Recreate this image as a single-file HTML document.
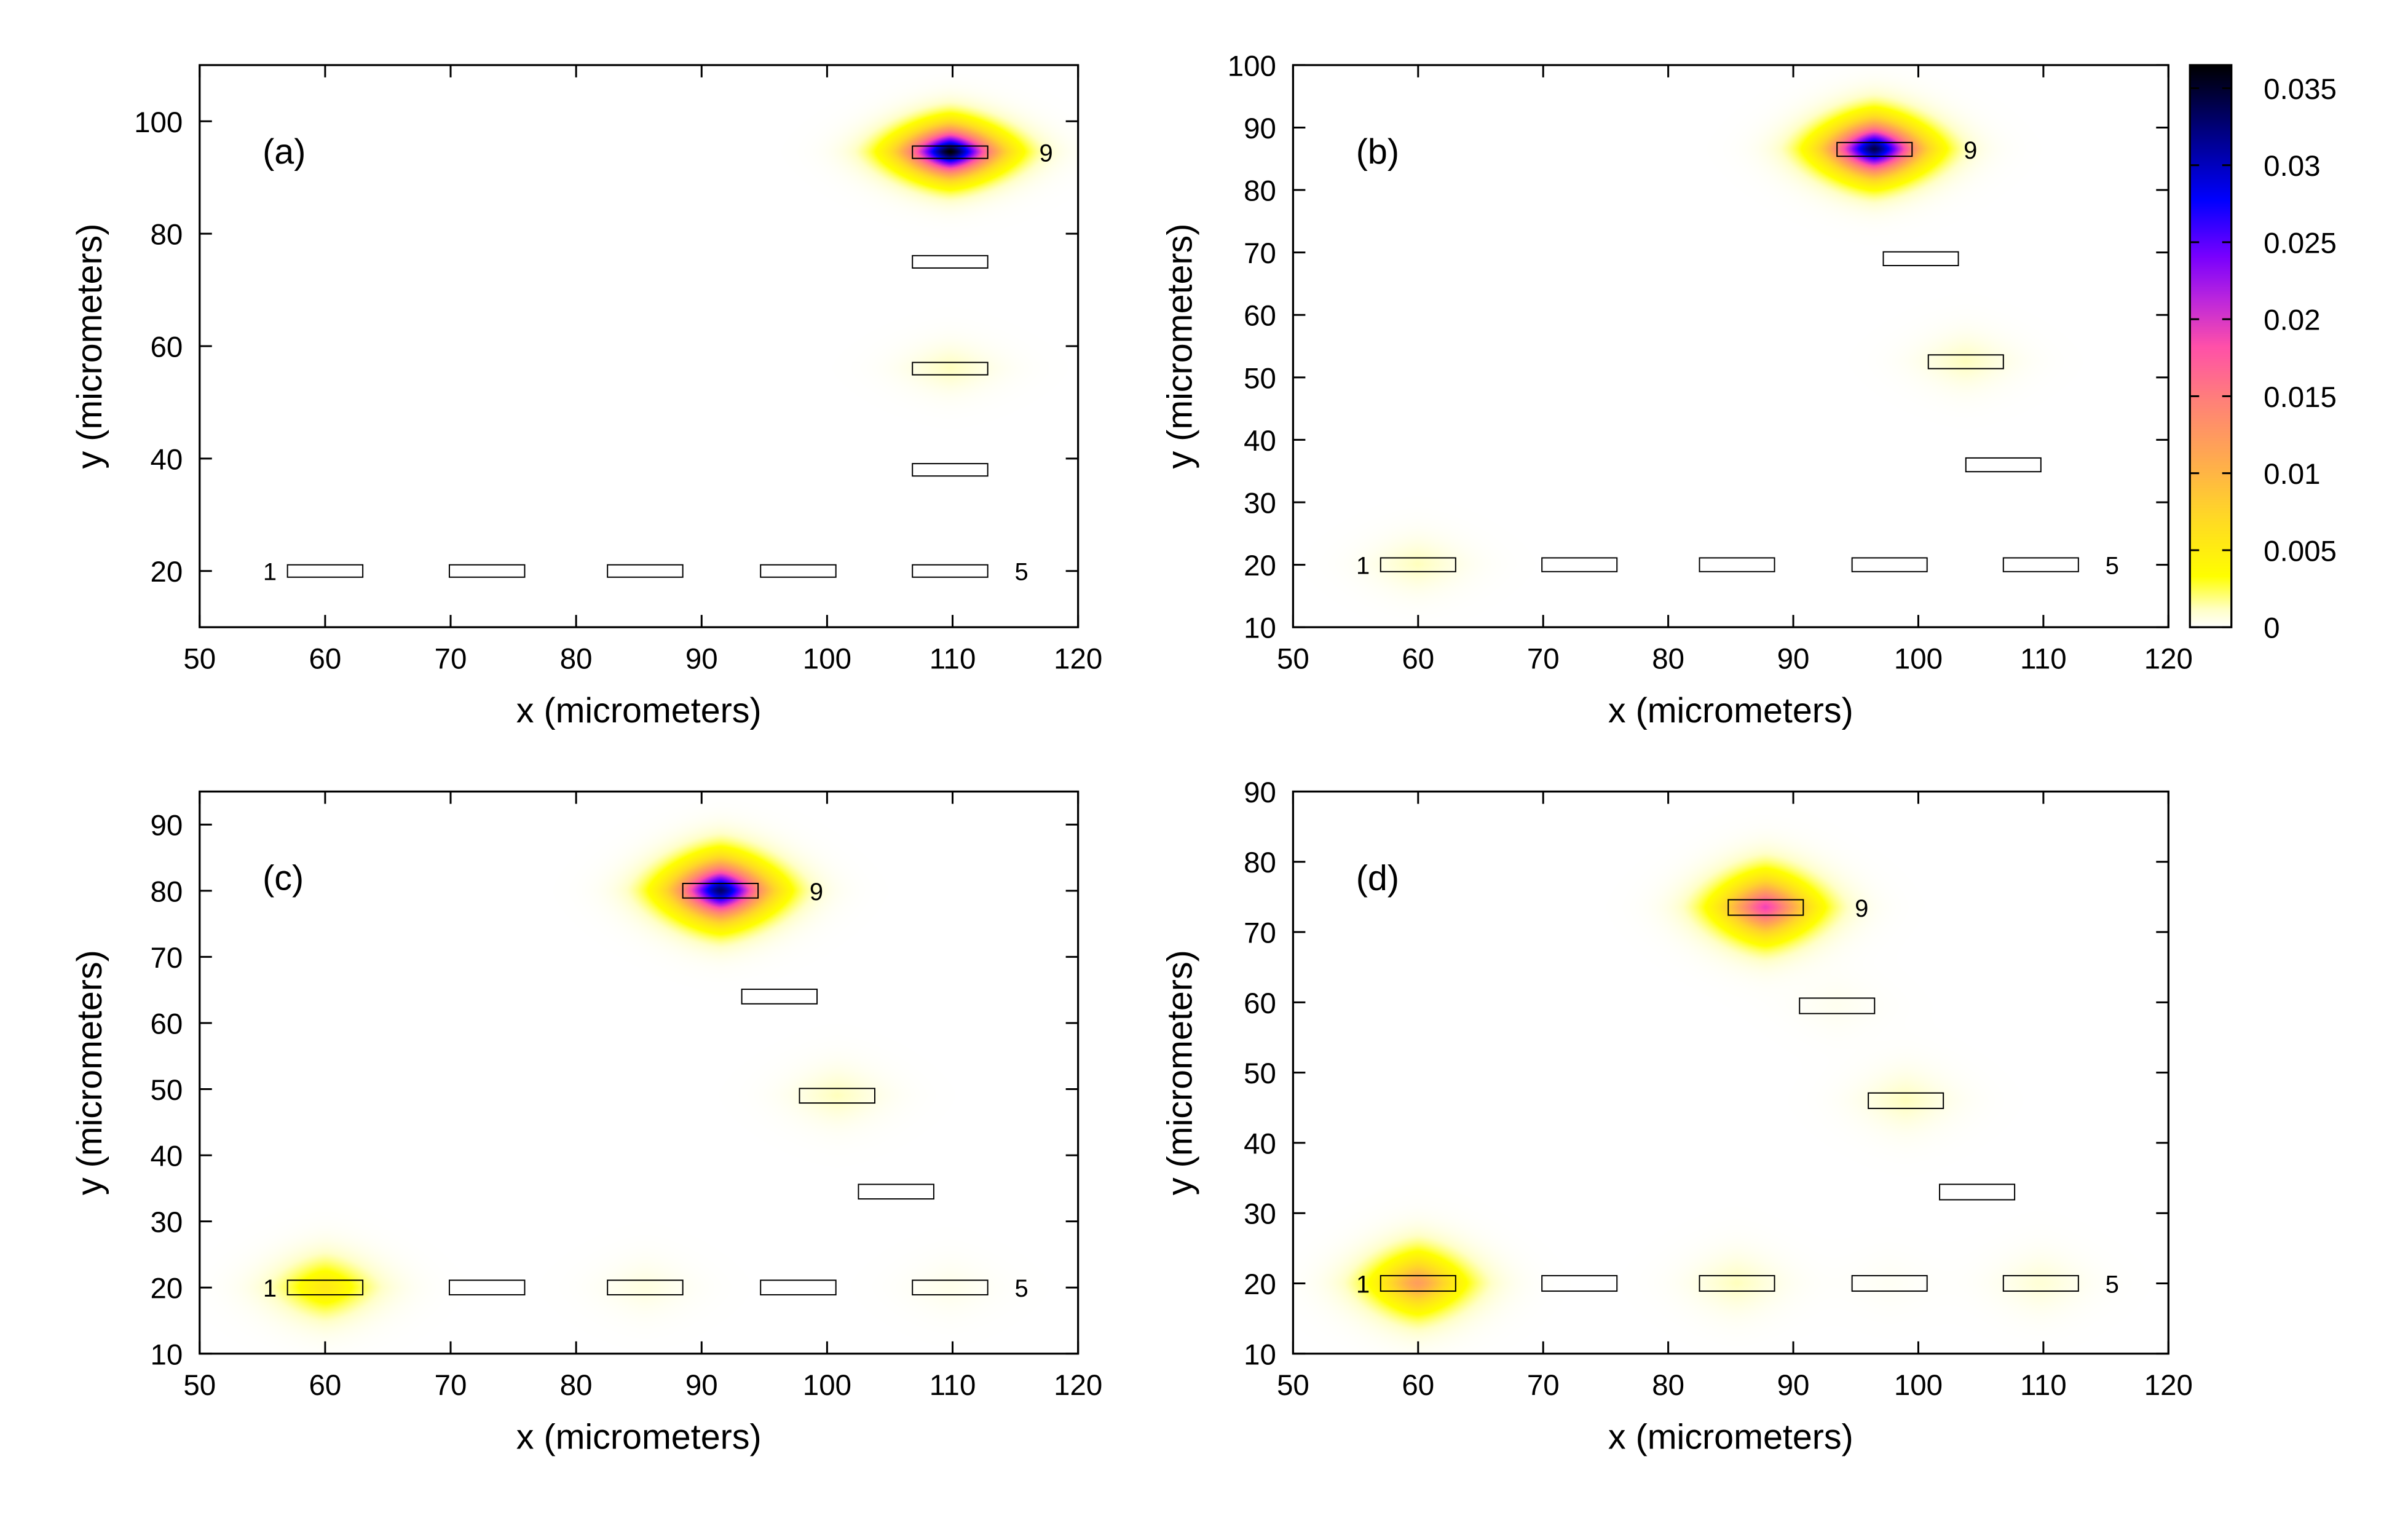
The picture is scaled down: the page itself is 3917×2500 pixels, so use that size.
<!DOCTYPE html>
<html><head><meta charset="utf-8">
<style>
html,body{margin:0;padding:0;background:#fff;}
#wrap{position:relative;width:3917px;height:2500px;overflow:hidden;}
canvas,svg{position:absolute;left:0;top:0;}
text{font-family:"Liberation Sans",sans-serif;fill:#000;}
</style></head>
<body>
<div id="wrap">
<canvas id="cv" width="3917" height="2500"></canvas>
<svg id="sv" width="3917" height="2500" viewBox="0 0 1568 1000" xmlns="http://www.w3.org/2000/svg"></svg>
</div>
<script>
// ---- data ----
const panelLabels = ["(a)","(b)","(c)","(d)"];
const xTicks = [50,60,70,80,90,100,110,120];
const yTicksA = [20,40,60,80,100];
const yTicksB = [10,20,30,40,50,60,70,80,90,100];
const yTicksC = [10,20,30,40,50,60,70,80,90];
const yTicksD = [10,20,30,40,50,60,70,80,90];
const cbTicks = [0,0.005,0.01,0.015,0.02,0.025,0.03,0.035];
const cbTickLabels = ["0","0.005","0.01","0.015","0.02","0.025","0.03","0.035"];
// rectangle centres (micrometres): sites 1..9
const rectXA = [60,72.9,85.5,97.7,109.8,109.8,109.8,109.8,109.8];
const rectYA = [20,20,20,20,20,38,56,75,94.5];
const rectXB = [60,72.9,85.5,97.7,109.8,106.8,103.8,100.2,96.5];
const rectYB = [20,20,20,20,20,36,52.5,69,86.5];
const rectXC = [60,72.9,85.5,97.7,109.8,105.5,100.8,96.2,91.5];
const rectYC = [20,20,20,20,20,34.5,49,64,80];
const rectXD = [60,72.9,85.5,97.7,109.8,104.7,99.0,93.5,87.8];
const rectYD = [20,20,20,20,20,33,46,59.5,73.5];
// field amplitude at each site
const ampA = [0,0,0,0,0,0,0.0012,0,0.0365];
const ampB = [0.0012,0,0,0,0,0,0.0012,0,0.034];
const ampC = [0.0055,0,0.0006,0,0.0004,0,0.0012,0,0.033];
const ampD = [0.012,0,0.0012,0.0002,0.0008,0,0.0012,0.0003,0.019];
</script>
<script>
const SVGNS="http://www.w3.org/2000/svg";
const sv=document.getElementById('sv');
const S=3917/1568;
const panels=[
 {x0:130,x1:702,y0:42,y1:408,ymin:10,ymax:110,yt:yTicksA,rx:rectXA,ry:rectYA,amp:ampA,name:'panel-a'},
 {x0:842,x1:1412,y0:42,y1:408,ymin:10,ymax:100,yt:yTicksB,rx:rectXB,ry:rectYB,amp:ampB,name:'panel-b'},
 {x0:130,x1:702,y0:515,y1:881,ymin:10,ymax:95,yt:yTicksC,rx:rectXC,ry:rectYC,amp:ampC,name:'panel-c'},
 {x0:842,x1:1412,y0:515,y1:881,ymin:10,ymax:90,yt:yTicksD,rx:rectXD,ry:rectYD,amp:ampD,name:'panel-d'}
];
const VMAX=0.0365;
const stops=[[0,255,255,255],[0.03,255,255,200],[0.09,255,255,0],[0.2,255,215,40],[0.3,255,170,80],[0.4,255,130,120],[0.5,255,80,170],[0.58,190,40,220],[0.66,120,0,255],[0.76,0,0,255],[0.88,0,0,130],[1,0,0,0]];
function cmap(t){t=Math.max(0,Math.min(1,t));for(let i=1;i<stops.length;i++){if(t<=stops[i][0]){const a=stops[i-1],b=stops[i],f=(t-a[0])/(b[0]-a[0]);return [a[1]+(b[1]-a[1])*f,a[2]+(b[2]-a[2])*f,a[3]+(b[3]-a[3])*f];}}return [0,0,0];}
function el(tag,attrs,parent){const e=document.createElementNS(SVGNS,tag);for(const k in attrs)e.setAttribute(k,attrs[k]);(parent||sv).appendChild(e);return e;}
const cv=document.getElementById('cv');const ctx=cv.getContext('2d');
panels.forEach((p,pi)=>{
 const sx=v=>p.x0+(v-50)/70*(p.x1-p.x0);
 const sy=v=>p.y1-(v-p.ymin)/(p.ymax-p.ymin)*(p.y1-p.y0);
 const X0=Math.round(p.x0*S),X1=Math.round(p.x1*S),Y0=Math.round(p.y0*S),Y1=Math.round(p.y1*S);
 const w=X1-X0,h=Y1-Y0;const img=ctx.createImageData(w,h);
 for(let j=0;j<h;j++){const yv=p.ymin+(1-(j+0.5)/h)*(p.ymax-p.ymin);
  for(let i=0;i<w;i++){const xv=50+(i+0.5)/w*70;let v=0;
   for(let k=0;k<9;k++){const A=p.amp[k];if(!A)continue;const dx=Math.abs(xv-p.rx[k])/3.3,dy=Math.abs(yv-p.ry[k])/3.8;if(dx>5||dy>5)continue;const r=Math.pow(Math.pow(dx,1.5)+Math.pow(dy,1.5),1/1.5);v+=A*Math.exp(-Math.pow(r,1.5));}
   const c=cmap(v/VMAX);const o=(j*w+i)*4;img.data[o]=c[0];img.data[o+1]=c[1];img.data[o+2]=c[2];img.data[o+3]=255;}}
 ctx.putImageData(img,X0,Y0);
 const g=el('g',{});
 
 
 for(let k=0;k<9;k++){
  const r=el('rect',{x:sx(p.rx[k]-3),y:sy(p.ry[k]+1.1),width:sx(p.rx[k]+3)-sx(p.rx[k]-3),height:sy(p.ry[k]-1.1)-sy(p.ry[k]+1.1),fill:'none',stroke:'#000','stroke-width':0.8},g);
  
  
 }
 const l1=el('text',{x:sx(p.rx[0]-3)-7,y:sy(p.ry[0])+6,'font-size':16,'text-anchor':'end'},g);l1.textContent='1';
 
 
 const l5=el('text',{x:sx(p.rx[4]+3)+22,y:sy(p.ry[4])+6,'font-size':16,'text-anchor':'middle'},g);l5.textContent='5';
 
 
 const l9=el('text',{x:sx(p.rx[8]+3)+38,y:sy(p.ry[8])+6,'font-size':16,'text-anchor':'middle'},g);l9.textContent='9';
 
 
 const pl=el('text',{x:p.x0+41,y:p.y0+64,'font-size':23},g);pl.textContent=panelLabels[pi];
 
 
 const fr=el('rect',{x:p.x0,y:p.y0,width:p.x1-p.x0,height:p.y1-p.y0,fill:'none',stroke:'#000','stroke-width':1.3},g);
 
 
 xTicks.forEach(t=>{const X=sx(t);
  el('line',{x1:X,x2:X,y1:p.y1,y2:p.y1-8,stroke:'#000','stroke-width':1.2},g);
  el('line',{x1:X,x2:X,y1:p.y0,y2:p.y0+8,stroke:'#000','stroke-width':1.2},g);
  const tl=el('text',{x:X,y:p.y1+27,'font-size':19,'text-anchor':'middle'},g);tl.textContent=t;
  
  
 });
 p.yt.forEach(t=>{const Y=sy(t);
  el('line',{x1:p.x0,x2:p.x0+8,y1:Y,y2:Y,stroke:'#000','stroke-width':1.2},g);
  el('line',{x1:p.x1,x2:p.x1-8,y1:Y,y2:Y,stroke:'#000','stroke-width':1.2},g);
  const tl=el('text',{x:p.x0-11,y:Y+7,'font-size':19,'text-anchor':'end'},g);tl.textContent=t;
  
  
 });
 const xt=el('text',{x:(p.x0+p.x1)/2,y:p.y1+62,'font-size':23,'text-anchor':'middle'},g);xt.textContent='x (micrometers)';
 
 
 const yx=p.x0-(pi%2===0?64:66),yy=(p.y0+p.y1)/2;
 const yt=el('text',{x:yx,y:yy,'font-size':23,'text-anchor':'middle',transform:`rotate(-90 ${yx} ${yy})`},g);yt.textContent='y (micrometers)';
 
 
});
(function(){
 const cx0=1426,cx1=1453,cy0=42,cy1=408;
 const X0=Math.round(cx0*S),X1=Math.round(cx1*S),Y0=Math.round(cy0*S),Y1=Math.round(cy1*S);
 for(let j=Y0;j<Y1;j++){const t=(Y1-j)/(Y1-Y0);const c=cmap(t);ctx.fillStyle=`rgb(${c[0]|0},${c[1]|0},${c[2]|0})`;ctx.fillRect(X0,j,X1-X0,1);}
 const g=el('g',{});
 
 
 el('rect',{x:cx0,y:cy0,width:cx1-cx0,height:cy1-cy0,fill:'none',stroke:'#000','stroke-width':1.3},g);
 const cy=v=>cy1-v/VMAX*(cy1-cy0);
 cbTicks.forEach((t,i)=>{const Y=cy(t);
  el('line',{x1:cx0,x2:cx0+6,y1:Y,y2:Y,stroke:'#000','stroke-width':1.2},g);
  el('line',{x1:cx1,x2:cx1-6,y1:Y,y2:Y,stroke:'#000','stroke-width':1.2},g);
  const tl=el('text',{x:cx1+21,y:Y+7,'font-size':19},g);tl.textContent=cbTickLabels[i];
  
  
 });
})();
</script>
</body></html>
